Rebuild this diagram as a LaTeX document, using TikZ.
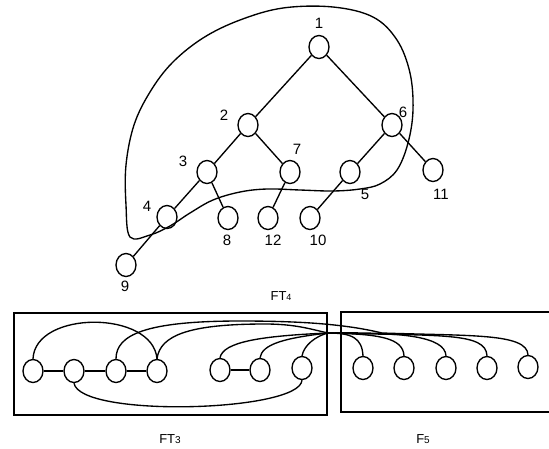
\documentclass[tikz,border=0pt]{standalone}
\usepackage{fontspec}
\setmainfont{Liberation Sans}
\usetikzlibrary{shapes.geometric}
\begin{document}
\begin{tikzpicture}[x=1pt,y=-1pt,line width=1.35pt,
  vtx/.style={draw, ellipse, minimum width=20pt, minimum height=23pt, inner sep=0pt},
  lab/.style={font=\fontsize{15}{15}\selectfont, inner sep=0pt},
  flab/.style={font=\fontsize{13}{13}\selectfont, inner sep=0pt}]
\path[use as bounding box] (0,0) rectangle (549,448);

% tree
\node[vtx] (n1) at (319,47) {};
\node[vtx] (n2) at (248,125) {};
\node[vtx] (n6) at (392,125) {};
\node[vtx] (n3) at (207,172) {};
\node[vtx] (n7) at (290,172) {};
\node[vtx] (n5) at (350,172) {};
\node[vtx] (n11) at (433,170) {};
\node[vtx] (n4) at (167,217) {};
\node[vtx] (n8) at (228,218) {};
\node[vtx] (n12) at (268,218) {};
\node[vtx] (n10) at (310,218) {};
\node[vtx] (n9) at (126,265) {};

\draw (n1) -- (n2);
\draw (n1) -- (n6);
\draw (n2) -- (n3);
\draw (n2) -- (n7);
\draw (n3) -- (n4);
\draw (n3) -- (n8);
\draw (n7) -- (n12);
\draw (n6) -- (n5);
\draw (n6) -- (n11);
\draw (n5) -- (n10);
\draw (n4) -- (n9);

\node[lab] (l1) at (319,23) {1};
\node[lab] (l2) at (224,115) {2};
\node[lab] (l6) at (403,112) {6};
\node[lab] (l3) at (183,161) {3};
\node[lab] (l7) at (297,149) {7};
\node[lab] (l5) at (365,194) {5};
\node[lab] (l11) at (441,194) {11};
\node[lab] (l4) at (147,206) {4};
\node[lab] (l8) at (227,240) {8};
\node[lab] (l12) at (273,240) {12};
\node[lab] (l10) at (318,240) {10};
\node[lab] (l9) at (125,286) {9};

% closed curve
\draw plot[smooth cycle, tension=0.6] coordinates {
 (130,237) (126,205) (126,165) (134,125) (150,92) (172,63) (203,38) (240,20) (283,8)
 (333,7) (373,17) (397,40) (410,73) (413,110) (408,143) (397,170) (380,184)
 (360,189) (333,191) (300,190) (267,189) (240,192) (213,200) (190,213)
 (170,226) (150,235)};

% labels bottom
\node[flab] (ft4) at (281,296) {FT\raisebox{-0.5pt}{\fontsize{9}{9}\selectfont 4}};
\node[flab] (ft3) at (170,439) {FT\raisebox{-0.5pt}{\fontsize{10}{10}\selectfont 3}};
\node[flab] (f5) at (423,439) {F\raisebox{-0.5pt}{\fontsize{10}{10}\selectfont 5}};

% boxes
\draw (14,313) rectangle (327,415);
\draw (552,312) -- (341,312) -- (341,412) -- (552,412);

% bottom nodes
\node[vtx] (A) at (33,371) {};
\node[vtx] (B) at (74,371) {};
\node[vtx] (C) at (116,371) {};
\node[vtx] (D) at (157,371) {};
\node[vtx] (E) at (220,370) {};
\node[vtx] (F) at (260,370) {};
\node[vtx] (G) at (302,368) {};
\node[vtx] (H) at (363,368) {};
\node[vtx] (I) at (404,368) {};
\node[vtx] (J) at (446,368) {};
\node[vtx] (K) at (487,368) {};
\node[vtx] (L) at (528,367) {};

\draw (A) -- (B);
\draw (B) -- (C);
\draw (C) -- (D);
\draw (E) -- (F);

\coordinate (p1) at (328,333);
\coordinate (p2) at (382,333);
\coordinate (ctop) at (240,321);
\coordinate (dtop) at (265,324);

\draw (A.north) .. controls (35,310) and (153,310) .. (D.north);
\draw (B.south) .. controls (80,418) and (300,412) .. (G.south);

\draw (C.north) .. controls (116,335) and (145,321) .. (ctop)
      .. controls (300,321) and (345,324) .. (p2)
      .. controls (470,336) and (527,333) .. (L.north);
\draw (D.north) .. controls (160,335) and (190,324) .. (dtop)
      .. controls (295,324) and (310,329) .. (p1)
      .. controls (440,336) and (486,332) .. (K.north);
\draw (E.north) .. controls (223,342) and (260,336) .. (p1)
      .. controls (400,332) and (445,336) .. (J.north);
\draw (F.north) .. controls (262,344) and (285,338) .. (p1)
      .. controls (380,334) and (403,338) .. (I.north);
\draw (G.north) .. controls (304,345) and (316,336) .. (p1)
      .. controls (352,333) and (362,338) .. (H.north);
\end{tikzpicture}
\end{document}
